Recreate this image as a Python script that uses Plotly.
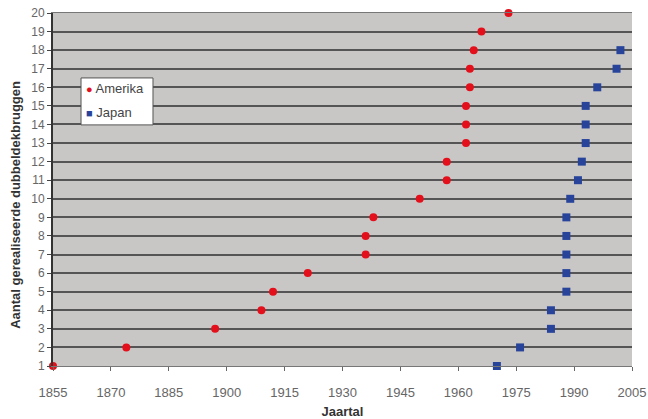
import plotly.graph_objects as go

# Jaartal van elke gerealiseerde dubbeldekbrug (cumulatief aantal 1..20 / 1..18)
amerika_jaar = [1855, 1874, 1897, 1909, 1912, 1921, 1936, 1936, 1938, 1950,
                1957, 1957, 1962, 1962, 1962, 1963, 1963, 1964, 1966, 1973]
amerika_aantal = list(range(1, 21))

japan_jaar = [1970, 1976, 1984, 1984, 1988, 1988, 1988, 1988, 1988, 1989,
              1991, 1992, 1993, 1993, 1993, 1996, 2001, 2002]
japan_aantal = list(range(1, 19))

x_ticks = [1855, 1870, 1885, 1900, 1915, 1930, 1945, 1960, 1975, 1990, 2005]
y_ticks = list(range(1, 21))

ROOD = "#e3101c"
BLAUW = "#27449a"

fig = go.Figure()
fig.add_trace(go.Scatter(
    x=amerika_jaar, y=amerika_aantal, mode="markers", name="Amerika",
    marker=dict(symbol="circle", size=8, color=ROOD),
    cliponaxis=False,
))
fig.add_trace(go.Scatter(
    x=japan_jaar, y=japan_aantal, mode="markers", name="Japan",
    marker=dict(symbol="square", size=8, color=BLAUW),
    cliponaxis=False,
))

font_family = "Liberation Sans, Arial, sans-serif"
fig.update_layout(
    width=648, height=419,
    margin=dict(l=53, r=16, t=13, b=53),
    paper_bgcolor="white",
    plot_bgcolor="#c9c7c5",
    font=dict(family=font_family, size=12, color="#555555"),
    showlegend=False,
)

# compacte legenda: kader met symbool + naam per reeks
fig.add_shape(type="rect", xref="paper", yref="paper",
              x0=0.0484, x1=0.1727, y0=0.683, y1=0.816,
              fillcolor="white", line=dict(color="#555555", width=1), layer="above")
for naam, symbool, kleur, ypos in [("Amerika", "●", ROOD, 0.785),
                                   ("Japan", "■", BLAUW, 0.717)]:
    fig.add_annotation(
        xref="paper", yref="paper", x=0.054, y=ypos, xanchor="left", yanchor="middle",
        showarrow=False,
        text=f"<span style='color:{kleur};font-size:11px'>{symbool}</span> {naam}",
        font=dict(size=13, color="#444444", family=font_family),
    )

# titel van de verticale as
fig.add_annotation(
    xref="paper", yref="paper", x=-0.066, y=0.456, xanchor="center", yanchor="middle",
    showarrow=False, textangle=-90,
    text="<b>Aantal gerealiseerde dubbeldekbruggen</b>",
    font=dict(size=13, color="#333333", family=font_family),
)

fig.update_xaxes(
    range=[1855, 2005], tickvals=x_ticks, ticktext=[str(v) for v in x_ticks],
    showgrid=False, zeroline=False, automargin=False,
    ticks="outside", ticklen=4, tickcolor="#666666",
    tickfont=dict(size=13, color="#666666"), ticklabelstandoff=10,
    showline=True, linecolor="#777777", linewidth=1, mirror=True,
    title=dict(text="<b>Jaartal</b>", font=dict(size=13, color="#333333"), standoff=8),
)
fig.update_yaxes(
    range=[1, 20], tickvals=y_ticks,
    showgrid=True, gridcolor="#555555", gridwidth=2, zeroline=False, automargin=False,
    ticks="outside", ticklen=4, tickcolor="#444444",
    tickfont=dict(size=12, color="#666666"),
    showline=True, linecolor="#333333", linewidth=2, mirror=False,
)

fig.write_html("out.html")
